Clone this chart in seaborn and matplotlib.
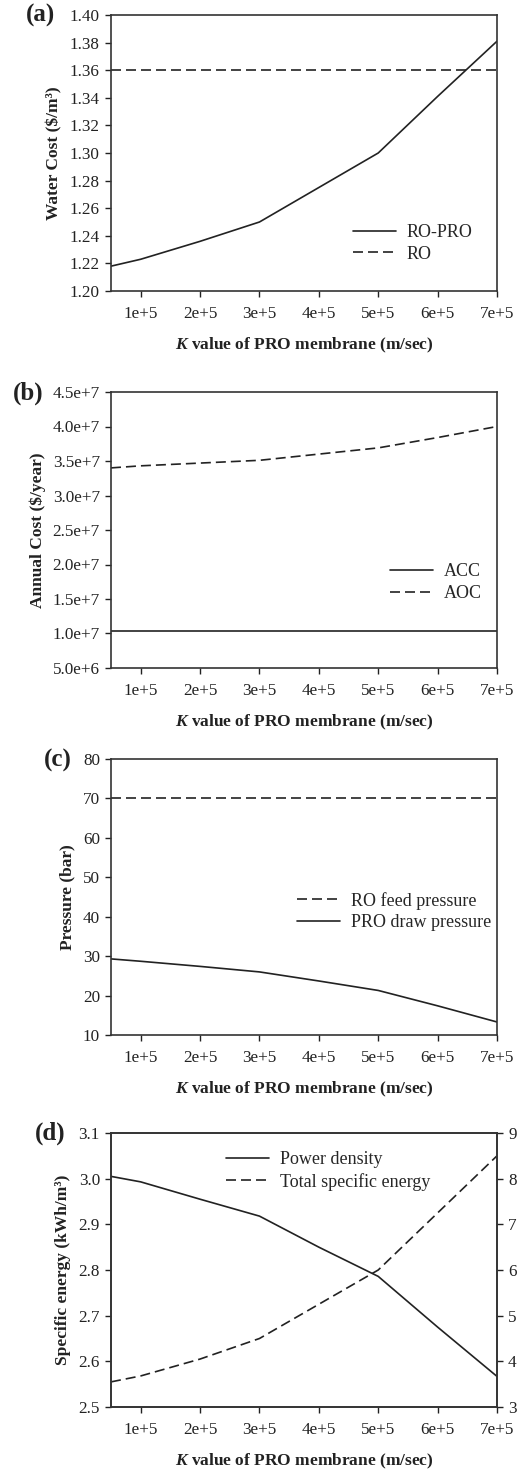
import numpy as np
import pandas as pd
import matplotlib
matplotlib.use("Agg")
import matplotlib.pyplot as plt
import seaborn as sns

# ---- data ----
k_values = [0.5e5, 1e5, 2e5, 3e5, 4e5, 5e5, 6e5, 7e5]
xtick_vals = [1e5, 2e5, 3e5, 4e5, 5e5, 6e5, 7e5]
xtick_labels = ["1e+5", "2e+5", "3e+5", "4e+5", "5e+5", "6e+5", "7e+5"]

water_cost_ro_pro = [1.218, 1.223, 1.236, 1.250, 1.275, 1.300, 1.341, 1.381]
water_cost_ro = [1.36] * 8

annual_acc = [1.04e7] * 8
annual_aoc = [3.40e7, 3.43e7, 3.47e7, 3.51e7, 3.60e7, 3.69e7, 3.84e7, 4.00e7]

ro_feed_pressure = [70] * 8
pro_draw_pressure = [29.3, 28.7, 27.4, 26.0, 23.7, 21.3, 17.4, 13.3]

total_specific_energy = [2.555, 2.568, 2.605, 2.650, 2.725, 2.800, 2.925, 3.050]
power_density = [8.05, 7.93, 7.55, 7.18, 6.50, 5.86, 4.75, 3.67]

sns.set_theme(style="ticks")
plt.rcParams["font.family"] = ["Liberation Serif", "DejaVu Serif"]
plt.rcParams["mathtext.fontset"] = "custom"
plt.rcParams["mathtext.it"] = "Liberation Serif:italic:bold"
plt.rcParams["mathtext.rm"] = "Liberation Serif:bold"

INK = "#222222"
W, H = 519, 1471
fig = plt.figure(figsize=(W / 100, H / 100), dpi=100)

TICK_FS = 12.3
LAB_FS = 12.5
LEG_FS = 13

def box(top, bottom, left=111, right=497):
    return [left / W, 1 - bottom / H, (right - left) / W, (bottom - top) / H]

DASH = (6, 3)
LW = 1.2

def style_ax(ax, ylabel):
    ax.set_xlim(0.5e5, 7e5)
    ax.set_xticks(xtick_vals)
    ax.set_xticklabels(xtick_labels)
    ax.tick_params(axis="both", labelsize=TICK_FS, colors=INK, length=4, width=1,
                   direction="out", pad=4)
    ax.tick_params(axis="x", pad=7)
    for s in ax.spines.values():
        s.set_visible(True)
        s.set_color("#333333")
        s.set_linewidth(1.2)
    ax.set_ylabel(ylabel, fontsize=LAB_FS, fontweight="bold", color=INK, labelpad=5)
    ax.set_xlabel(r"$K$ value of PRO membrane (m/sec)", fontsize=LAB_FS,
                  fontweight="bold", color=INK, labelpad=10)

def draw(ax, y, label, dashed):
    df = pd.DataFrame({"k": k_values, "v": y})
    sns.lineplot(data=df, x="k", y="v", ax=ax, color=INK, lw=LW, label=label,
                 dashes=False)
    ln = ax.get_lines()[-1]
    if dashed:
        ln.set_dashes(DASH)

LEG_KW = dict(loc="upper left", frameon=False, fontsize=LEG_FS, handlelength=2.35,
              labelspacing=0.25, borderaxespad=0, handletextpad=0.6)

# (a)
ax1 = fig.add_axes(box(15, 291))
draw(ax1, water_cost_ro_pro, "RO-PRO", False)
draw(ax1, water_cost_ro, "RO", True)
ax1.set_ylim(1.20, 1.40)
ax1.set_yticks(np.arange(1.20, 1.401, 0.02))
ax1.set_yticklabels([f"{v:.2f}" for v in np.arange(1.20, 1.401, 0.02)])
style_ax(ax1, "Water Cost ($/m³)")
ax1.legend(bbox_to_anchor=(0.609, 0.268), **LEG_KW)

# (b)
ax2 = fig.add_axes(box(392, 668))
draw(ax2, annual_acc, "ACC", False)
draw(ax2, annual_aoc, "AOC", True)
ax2.set_ylim(5e6, 4.5e7)
yt = np.arange(5e6, 4.51e7, 5e6)
ax2.set_yticks(yt)
ax2.set_yticklabels([f"{v/10**int(np.floor(np.log10(v))):.1f}e+{int(np.floor(np.log10(v)))}" for v in yt])
style_ax(ax2, "Annual Cost ($/year)")
ax2.legend(bbox_to_anchor=(0.705, 0.405), **LEG_KW)

# (c)
ax3 = fig.add_axes(box(759, 1035))
draw(ax3, ro_feed_pressure, "RO feed pressure", True)
draw(ax3, pro_draw_pressure, "PRO draw pressure", False)
ax3.set_ylim(10, 80)
ax3.set_yticks(range(10, 81, 10))
style_ax(ax3, "Pressure (bar)")
ax3.legend(bbox_to_anchor=(0.464, 0.545), **LEG_KW)

# (d)
ax4 = fig.add_axes(box(1133, 1407))
draw(ax4, total_specific_energy, "Total specific energy", True)
ax4.set_ylim(2.5, 3.1)
ax4.set_yticks(np.arange(2.5, 3.11, 0.1))
ax4.set_yticklabels([f"{v:.1f}" for v in np.arange(2.5, 3.11, 0.1)])
style_ax(ax4, "Specific energy (kWh/m³)")
ax4b = ax4.twinx()
df_pd = pd.DataFrame({"k": k_values, "v": power_density})
sns.lineplot(data=df_pd, x="k", y="v", ax=ax4b, color=INK, lw=LW, label="Power density")
ax4b.set_ylim(3, 9)
ax4b.set_yticks(range(3, 10))
ax4b.set_ylabel("")
ax4b.tick_params(axis="y", labelsize=TICK_FS, colors=INK, length=4, width=1,
                 direction="out", pad=4)
for s in ax4b.spines.values():
    s.set_color("#333333")
    s.set_linewidth(1.2)
ax4b.set_xlim(0.5e5, 7e5)
if ax4.get_legend():
    ax4.get_legend().remove()
h1, l1 = ax4b.get_legend_handles_labels()
h2, l2 = ax4.get_legend_handles_labels()
ax4b.legend(h1 + h2, l1 + l2, bbox_to_anchor=(0.28, 0.96), **LEG_KW)

# panel labels
for lab, ypix, xpix in [("(a)", 15, 26), ("(b)", 393, 13), ("(c)", 760, 44), ("(d)", 1133, 35)]:
    fig.text(xpix / W, 1 - ypix / H, lab, fontsize=18, fontweight="bold",
             color=INK, va="center", ha="left")

fig.savefig("out.png", dpi=100)
